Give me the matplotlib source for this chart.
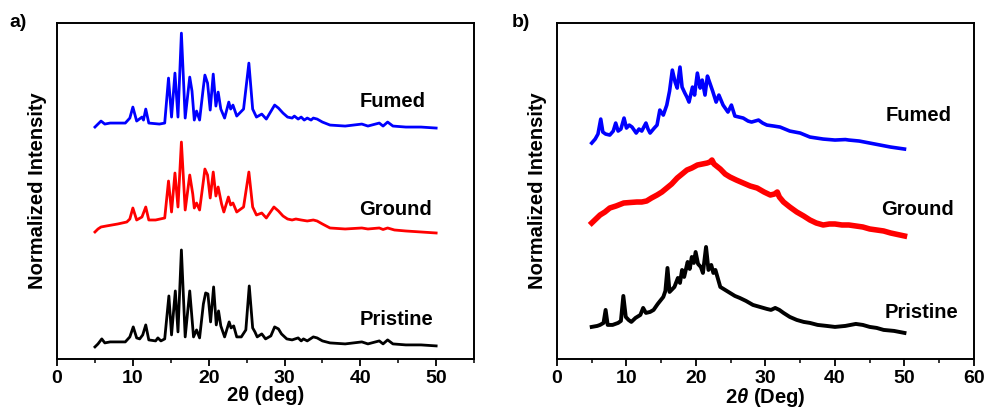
import matplotlib

matplotlib.use("Agg")
import matplotlib.pyplot as plt
from matplotlib.ticker import MultipleLocator

plt.rcParams["font.family"] = ["Liberation Sans", "DejaVu Sans"]
plt.rcParams["mathtext.fontset"] = "custom"
plt.rcParams["mathtext.it"] = "Liberation Sans:italic:bold"
plt.rcParams["mathtext.rm"] = "Liberation Sans:bold"

# ---- panel a: sharp crystalline patterns (offset intensities, arbitrary units)
A_PRISTINE_X = [5.0, 5.4, 5.9, 6.3, 7.0, 9.0, 9.6, 10.05, 10.5, 10.9, 11.3, 11.7, 12.1, 13.0, 13.3,
                13.7, 14.2, 14.75, 15.1, 15.6, 15.95, 16.4, 16.9, 17.5, 18.0, 18.4, 18.8, 19.3, 19.6,
                19.9, 20.25, 20.65, 21.0, 21.3, 21.6, 22.1, 22.7, 22.95, 23.3, 23.7, 24.3, 24.9, 25.35,
                25.8, 26.1, 26.4, 27.0, 27.5, 28.2, 28.7, 29.2, 29.6, 30.3, 31.0, 31.8, 32.2, 32.5,
                33.0, 33.8, 34.3, 35.0, 36.0, 38.0, 40.2, 41.0, 42.5, 43.0, 43.6, 44.3, 46.0, 48.0, 50.0]
A_PRISTINE_Y = [12, 15, 20, 16, 17, 17, 22, 32, 21, 20, 24, 34, 19, 18, 21,
                18, 20, 63, 24, 68, 27, 109, 22, 68, 22, 29, 21, 55, 66,
                65, 37, 72, 34, 48, 33, 22, 37, 31, 33, 22, 22, 29, 73,
                31, 27, 22, 25, 20, 23, 32, 30, 25, 20, 19, 21, 18, 20,
                18, 22, 21, 18, 16, 15, 17, 15, 18, 15, 19, 15, 14, 14, 13]

A_GROUND_X = [5.0, 5.4, 5.8, 6.5, 8.0, 9.2, 9.6, 10.0, 10.5, 11.2, 11.7, 12.1, 13.0, 14.2, 14.7,
              15.1, 15.55, 15.95, 16.4, 16.9, 17.5, 17.9, 18.1, 18.4, 18.8, 19.3, 19.5, 19.85, 20.2,
              20.6, 20.95, 21.25, 21.7, 22.0, 22.6, 22.9, 23.2, 23.7, 24.6, 25.3, 25.8, 26.3, 27.0,
              27.6, 28.6, 29.2, 29.8, 30.4, 31.0, 31.5, 32.2, 33.0, 33.8, 34.3, 35.0, 36.0, 38.0,
              40.2, 41.0, 42.5, 43.0, 43.6, 44.5, 46.0, 48.0, 50.0]
A_GROUND_Y = [127, 130, 132, 133, 135, 137, 140, 151, 139, 142, 152, 139, 139, 141, 178,
              147, 186, 152, 217, 149, 184, 165, 151, 156, 149, 178, 190, 184, 161,
              187, 163, 172, 155, 147, 162, 154, 156, 147, 152, 187, 152, 144, 146,
              141, 152, 148, 143, 140, 139, 140, 139, 138, 139, 138, 135, 131, 130,
              131, 130, 131, 129.5, 131, 129, 128, 127, 126]

A_FUMED_X = [5.0, 5.4, 5.8, 6.3, 7.0, 9.0, 9.6, 10.0, 10.5, 11.2, 11.4, 11.7, 12.1, 13.5, 14.2,
             14.7, 15.1, 15.55, 15.95, 16.4, 16.9, 17.5, 17.8, 18.1, 18.4, 18.8, 19.3, 19.5, 19.85,
             20.2, 20.6, 20.95, 21.25, 21.6, 22.1, 22.65, 22.9, 23.2, 23.7, 24.6, 25.3, 25.8, 26.3,
             27.0, 27.6, 28.7, 29.2, 29.8, 30.4, 31.0, 31.3, 31.8, 32.2, 32.6, 33.0, 33.5, 33.8,
             34.3, 35.0, 36.0, 38.0, 40.2, 41.0, 42.5, 43.0, 43.6, 44.3, 46.0, 48.0, 50.0]
A_FUMED_Y = [232, 235, 238, 235, 236, 236, 241, 252, 238, 242, 239, 250, 236, 235, 236,
             281, 242, 286, 242, 326, 241, 282, 268, 239, 248, 239, 272, 284, 276,
             249, 285, 253, 267, 250, 241, 257, 250, 254, 243, 250, 296, 250, 242,
             245, 240, 254, 251, 246, 242, 241, 243, 240, 242, 239, 241, 239, 241,
             240, 237, 234, 233, 235, 233, 236, 233, 237, 233, 232, 232, 231]

# ---- panel b: broad, mostly amorphous patterns
B_PRISTINE_X = [5.0, 5.8, 6.2, 6.7, 7.0, 7.3, 8.0, 8.8, 9.2, 9.55, 9.9, 10.3, 10.7, 11.3, 12.0,
                12.4, 12.8, 13.4, 13.9, 14.5, 15.3, 15.6, 15.9, 16.2, 16.9, 17.4, 17.7, 18.0, 18.3,
                18.8, 19.1, 19.4, 19.7, 19.95, 20.3, 20.7, 21.0, 21.45, 21.8, 22.2, 22.5, 22.8, 23.5,
                24.2, 24.9, 25.6, 26.3, 27.2, 28.2, 29.2, 30.2, 30.8, 31.4, 32.0, 32.6, 33.5, 34.5,
                35.5, 36.4, 37.5, 38.8, 40.0, 41.5, 43.0, 44.0, 45.0, 46.0, 47.0, 48.5, 50.0]
B_PRISTINE_Y = [32, 33, 34, 36, 49, 34, 34, 36, 38, 63, 42, 39, 37, 41, 44,
                51, 46, 47, 49, 55, 62, 68, 91, 67, 72, 81, 76, 89, 82,
                97, 90, 102, 96, 107, 95, 92, 86, 112, 89, 94, 86, 89, 72,
                69, 66, 63, 61, 58, 54, 52, 50, 49, 51, 49, 46, 42, 39,
                37, 36, 34, 33, 32, 33, 35, 34, 32, 31, 29, 28, 26]

B_GROUND_X = [5.0, 5.6, 6.2, 6.9, 7.6, 8.5, 9.6, 10.5, 11.5, 12.2, 12.9, 13.6, 14.4, 15.1, 15.8,
              16.5, 17.3, 18.0, 18.7, 19.4, 20.2, 20.9, 21.6, 22.0, 22.3, 22.6, 23.5, 24.2, 24.9,
              25.8, 26.8, 27.8, 28.8, 29.8, 30.7, 31.3, 31.7, 32.0, 32.6, 33.5, 34.5, 35.5, 36.4,
              37.3, 38.3, 39.2, 40.0, 41.0, 42.0, 43.0, 44.0, 45.0, 46.0, 47.0, 48.0, 49.0, 50.0]
B_GROUND_Y = [136, 140, 144, 147, 151, 153, 156, 156.5, 157, 157, 158, 161, 164, 167, 171,
              175, 181, 185, 189, 191, 194, 195, 196, 197, 199, 195, 190, 185, 182,
              179, 176, 173, 171, 167, 164, 165, 167, 162, 157, 152, 147, 143, 139,
              136, 134, 135, 135, 134, 134, 133, 132, 130, 129, 128, 126, 124.5, 123]

B_FUMED_X = [5.0, 5.5, 5.9, 6.3, 6.6, 7.0, 7.6, 8.1, 8.45, 8.8, 9.2, 9.65, 10.0, 10.4, 10.8,
             11.4, 11.8, 12.2, 12.8, 13.1, 13.4, 14.0, 14.4, 14.8, 15.3, 15.8, 16.2, 16.6, 17.0,
             17.3, 17.7, 18.0, 18.4, 18.7, 19.0, 19.5, 19.8, 20.2, 20.6, 20.9, 21.3, 21.65, 22.0,
             22.4, 22.9, 23.3, 23.9, 24.6, 25.1, 25.6, 26.2, 26.8, 27.5, 28.0, 29.0, 29.6, 30.2,
             31.2, 32.1, 33.5, 35.0, 36.4, 38.3, 40.0, 41.5, 42.0, 43.5, 45.0, 46.5, 48.0, 49.0, 50.0]
B_FUMED_Y = [216, 220, 225, 240, 227, 225, 224, 228, 236, 228, 230, 241, 231, 234, 232,
             226, 230, 228, 236, 230, 226, 231, 234, 249, 244, 254, 268, 289, 277,
             271, 292, 272, 266, 262, 257, 272, 264, 286, 271, 279, 264, 283, 276,
             268, 257, 264, 254, 247, 254, 243, 242, 241, 238, 237, 239, 236, 234,
             233, 232, 228, 226, 222, 220, 219, 219.5, 219, 218, 216, 214, 212, 211, 210]

LABELS = ["Fumed", "Ground", "Pristine"]
COLORS = ["#0000FF", "#FF0000", "#000000"]
A_LABEL_POS = [(44.3, 258), (44.6, 149), (44.8, 39)]
B_LABEL_POS = [(52.1, 244), (51.9, 149), (52.5, 46)]


def style_axes(ax, xmax, xlabel):
    ax.set_xlim(0, xmax)
    ax.set_ylim(0, 336)
    ax.set_yticks([])
    ax.xaxis.set_major_locator(MultipleLocator(10))
    ax.xaxis.set_minor_locator(MultipleLocator(5))
    ax.tick_params(axis="x", which="major", direction="out", length=5, width=1.3,
                   labelsize=14, pad=3)
    ax.tick_params(axis="x", which="minor", direction="out", length=3, width=1.1)
    for label in ax.get_xticklabels():
        label.set_fontweight("bold")
    for spine in ax.spines.values():
        spine.set_linewidth(1.4)
    ax.set_xlabel(xlabel, fontsize=14.5, weight="bold", labelpad=-1)
    ax.set_ylabel("Normalized Intensity", fontsize=14.5, weight="bold", labelpad=7)


fig = plt.figure(figsize=(9.87, 4.13), dpi=100)
ax_a = fig.add_axes([0.0578, 0.131, 0.4225, 0.813])
ax_b = fig.add_axes([0.5643, 0.131, 0.4225, 0.813])

a_series = [(A_FUMED_X, A_FUMED_Y), (A_GROUND_X, A_GROUND_Y), (A_PRISTINE_X, A_PRISTINE_Y)]
for (xs, ys), color in zip(a_series, COLORS):
    ax_a.plot(xs, ys, color=color, linewidth=2.0, solid_joinstyle="round")
for name, (tx, ty) in zip(LABELS, A_LABEL_POS):
    ax_a.text(tx, ty, name, fontsize=14.5, weight="bold", ha="center", va="center")

b_series = [(B_FUMED_X, B_FUMED_Y), (B_GROUND_X, B_GROUND_Y), (B_PRISTINE_X, B_PRISTINE_Y)]
b_widths = [2.6, 4.0, 2.8]
for (xs, ys), color, lw in zip(b_series, COLORS, b_widths):
    ax_b.plot(xs, ys, color=color, linewidth=lw, solid_joinstyle="round")
for name, (tx, ty) in zip(LABELS, B_LABEL_POS):
    ax_b.text(tx, ty, name, fontsize=14.5, weight="bold", ha="center", va="center")

style_axes(ax_a, 55, "2θ (deg)")
style_axes(ax_b, 60, r"2$\mathit{θ}$ (Deg)")

fig.text(0.010, 0.935, "a)", fontsize=14, weight="bold")
fig.text(0.518, 0.935, "b)", fontsize=14, weight="bold")

fig.savefig("out.png", dpi=100)
